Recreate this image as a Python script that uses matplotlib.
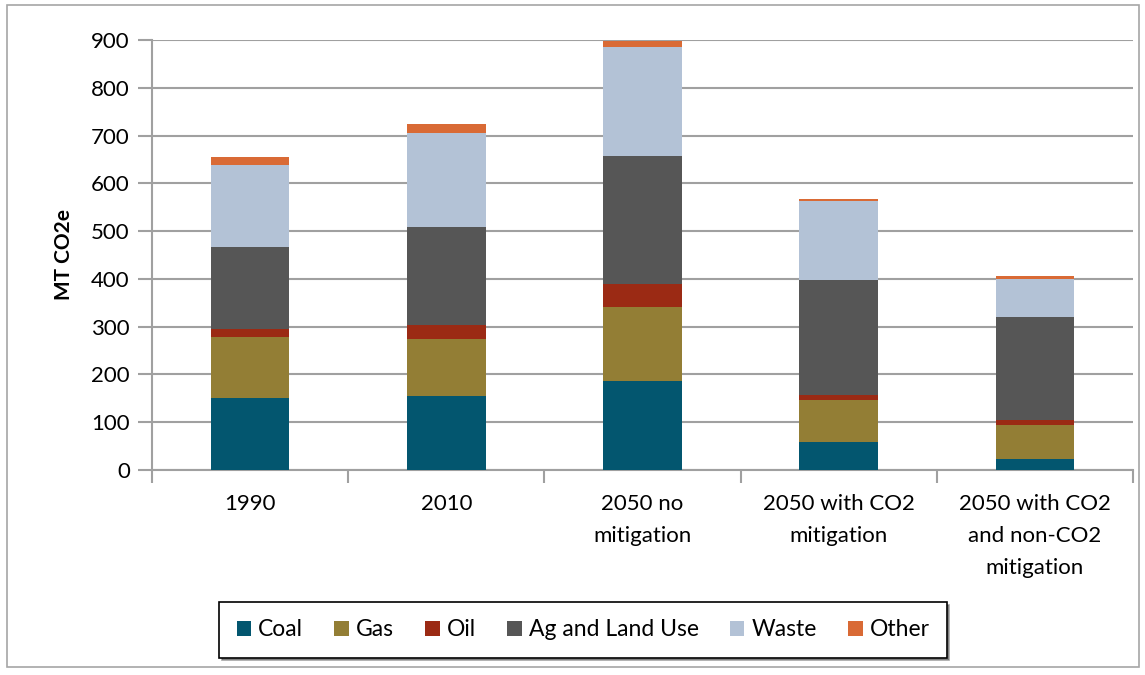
import matplotlib.pyplot as plt
from matplotlib.patches import Rectangle
import numpy as np

plt.rcParams['font.family'] = ['Lato', 'DejaVu Sans']

# Emissions by source, MT CO2e
scenarios = ['1990', '2010', '2050 no\nmitigation', '2050 with CO2\nmitigation',
             '2050 with CO2\nand non-CO2\nmitigation']
coal = [151, 155, 187, 59, 24]
gas = [127, 119, 154, 87, 70]
oil = [17, 29, 48, 12, 11]
ag_land = [172, 206, 268, 240, 215]
waste = [171, 196, 229, 165, 80]
other = [18, 19, 12, 4, 7]

series = [('Coal', coal, '#03566f'), ('Gas', gas, '#937e35'), ('Oil', oil, '#9b2a14'),
          ('Ag and Land Use', ag_land, '#565656'), ('Waste', waste, '#b3c2d6'),
          ('Other', other, '#d96a35')]

fig = plt.figure(figsize=(11.45, 6.75), dpi=100)
ax = fig.add_axes([152 / 1145, 1 - 470 / 675, (1133 - 152) / 1145, 430 / 675])

# Outer chart border
fig.patches.append(Rectangle((7 / 1145, 8 / 675), 1132 / 1145, 662 / 675,
                             transform=fig.transFigure, fill=False,
                             edgecolor='#a6a6a6', linewidth=1.2))

x = np.arange(len(scenarios))
bottom = np.zeros(len(scenarios))
handles = []
for name, vals, color in series:
    b = ax.bar(x, vals, width=0.4, bottom=bottom, color=color, label=name, zorder=3)
    handles.append(b)
    bottom += np.array(vals)

ax.set_xlim(-0.5, len(scenarios) - 0.5)
ax.set_ylim(0, 900)
ax.set_yticks(range(0, 901, 100))
ax.tick_params(axis='y', labelsize=16, length=10, color='#a0a0a0', width=1.5, pad=6)
ax.yaxis.grid(True, color='#a0a0a0', linewidth=1.5, zorder=0)
ax.set_axisbelow(True)

# Category labels centred on bars, tick marks at category boundaries
ax.set_xticks(x)
ax.set_xticklabels(scenarios, fontsize=16, linespacing=1.75, va='top')
ax.tick_params(axis='x', length=0, pad=17)
ax.set_xticks(np.arange(-0.5, len(scenarios), 1.0), minor=True)
ax.tick_params(axis='x', which='minor', length=9, color='#a0a0a0', width=1.5)

for side in ['top', 'right']:
    ax.spines[side].set_visible(False)
for side in ['left', 'bottom']:
    ax.spines[side].set_color('#a0a0a0')
    ax.spines[side].set_linewidth(1.5)

ax.set_ylabel('MT CO2e', fontsize=15, fontweight='bold', labelpad=12)

leg = fig.legend(handles=handles, labels=[s[0] for s in series], loc='center',
                 bbox_to_anchor=(583 / 1145, 1 - 630 / 675), ncol=6, fontsize=16.5,
                 frameon=True, fancybox=False, shadow=True, handlelength=0.65,
                 handleheight=0.65, handletextpad=0.3, columnspacing=1.35,
                 borderpad=0.75, borderaxespad=0)
leg.get_frame().set_edgecolor('black')
leg.get_frame().set_linewidth(1.2)

fig.savefig('out.png', dpi=100)
